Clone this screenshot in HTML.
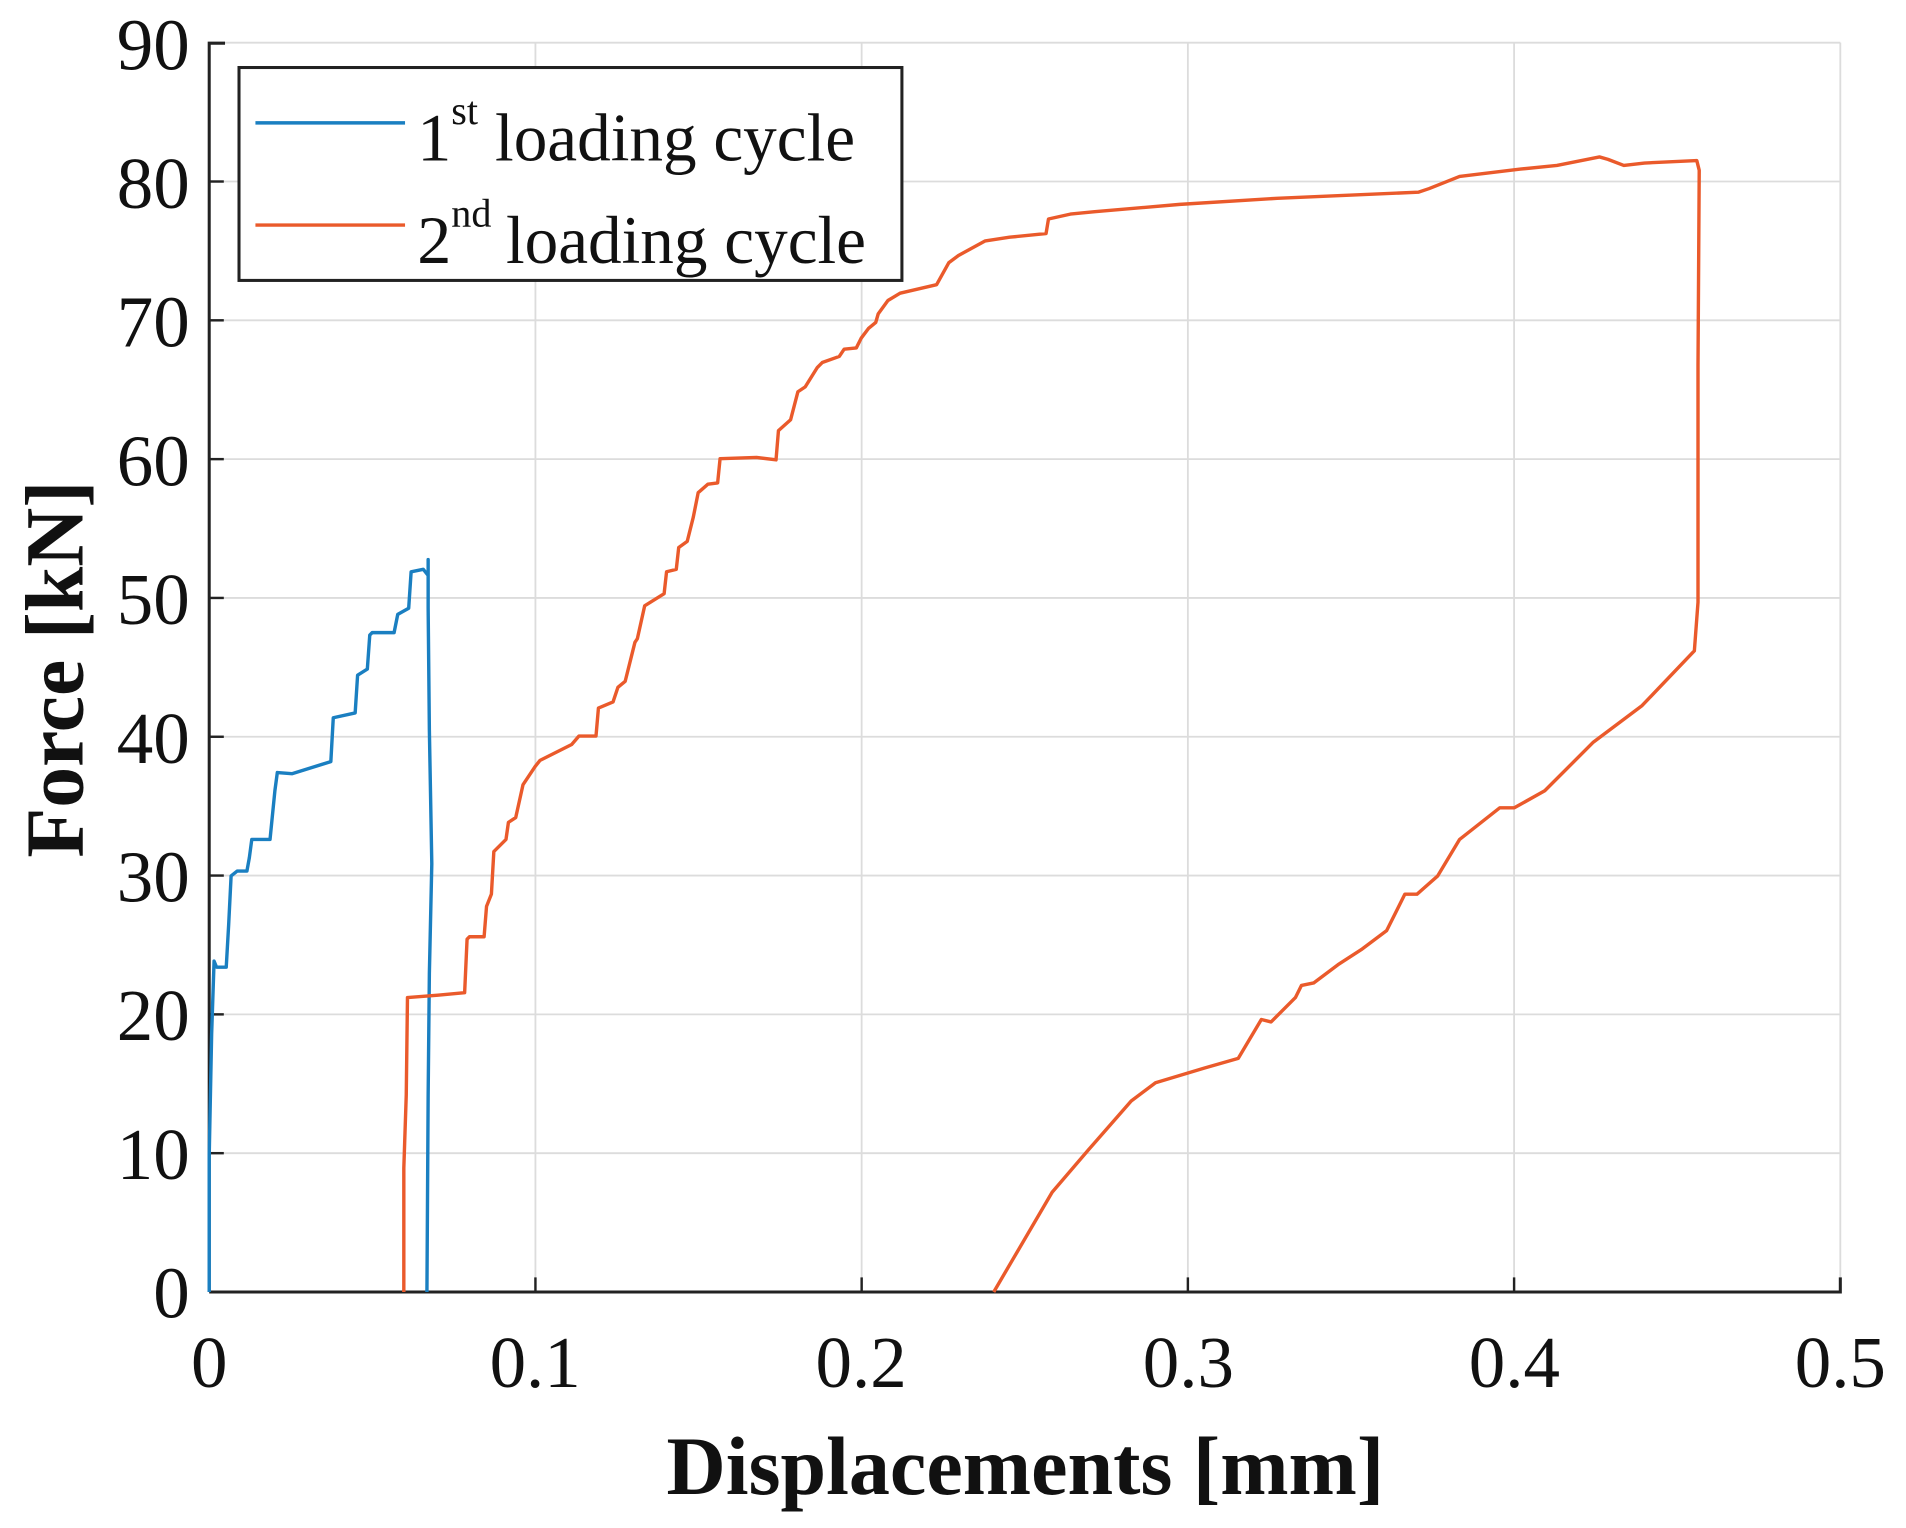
<!DOCTYPE html>
<html><head><meta charset="utf-8"><style>html,body{margin:0;padding:0;background:#fff}svg{display:block}</style></head>
<body>
<svg width="1906" height="1528" viewBox="0 0 1567 1256" preserveAspectRatio="none" xmlns="http://www.w3.org/2000/svg" font-family="Liberation Serif, serif">
<rect width="1567" height="1256" fill="#fff"/>
<g stroke="#dcdcdc" stroke-width="1.5">
<line x1="440.2" y1="35" x2="440.2" y2="1062"/><line x1="708.4" y1="35" x2="708.4" y2="1062"/>
<line x1="976.6" y1="35" x2="976.6" y2="1062"/><line x1="1244.8" y1="35" x2="1244.8" y2="1062"/>
<line x1="1513" y1="35" x2="1513" y2="1062"/>
<line x1="172" y1="947.9" x2="1513" y2="947.9"/><line x1="172" y1="833.8" x2="1513" y2="833.8"/>
<line x1="172" y1="719.7" x2="1513" y2="719.7"/><line x1="172" y1="605.6" x2="1513" y2="605.6"/>
<line x1="172" y1="491.5" x2="1513" y2="491.5"/><line x1="172" y1="377.4" x2="1513" y2="377.4"/>
<line x1="172" y1="263.3" x2="1513" y2="263.3"/><line x1="172" y1="149.2" x2="1513" y2="149.2"/>
<line x1="172" y1="35.1" x2="1513" y2="35.1"/>
</g>
<path d="M172 1062V35.5H185M172 1062H1513V1050" fill="none" stroke="#222" stroke-width="2.5"/>
<g stroke="#222" stroke-width="2">
<line x1="440.2" y1="1062" x2="440.2" y2="1050"/><line x1="708.4" y1="1062" x2="708.4" y2="1050"/>
<line x1="976.6" y1="1062" x2="976.6" y2="1050"/><line x1="1244.8" y1="1062" x2="1244.8" y2="1050"/>
<line x1="172" y1="947.9" x2="184" y2="947.9"/><line x1="172" y1="833.8" x2="184" y2="833.8"/>
<line x1="172" y1="719.7" x2="184" y2="719.7"/><line x1="172" y1="605.6" x2="184" y2="605.6"/>
<line x1="172" y1="491.5" x2="184" y2="491.5"/><line x1="172" y1="377.4" x2="184" y2="377.4"/>
<line x1="172" y1="263.3" x2="184" y2="263.3"/><line x1="172" y1="149.2" x2="184" y2="149.2"/>
</g>
<g font-size="60" text-anchor="end" fill="#111">
<text x="156" y="1083">0</text><text x="156" y="969">10</text><text x="156" y="855">20</text>
<text x="156" y="741">30</text><text x="156" y="627">40</text><text x="156" y="513">50</text>
<text x="156" y="399">60</text><text x="156" y="285">70</text><text x="156" y="171">80</text><text x="156" y="57">90</text>
</g>
<g font-size="60" text-anchor="middle" fill="#111">
<text x="172" y="1140">0</text><text x="440" y="1140">0.1</text><text x="708" y="1140">0.2</text>
<text x="977" y="1140">0.3</text><text x="1245" y="1140">0.4</text><text x="1513" y="1140">0.5</text>
</g>
<text x="843" y="1228" font-size="68" font-weight="bold" text-anchor="middle" textLength="590" lengthAdjust="spacingAndGlyphs" fill="#111">Displacements [mm]</text>
<text transform="translate(68,550) rotate(-90)" font-size="68" font-weight="bold" text-anchor="middle" textLength="310" lengthAdjust="spacingAndGlyphs" fill="#111">Force [kN]</text>

<polyline fill="none" stroke="#1a7fc1" stroke-width="2.8" stroke-linejoin="round" points="172,1062 172,950 174,850 176,790 178,795 186,795 188,760 190,720 195,716 203,716 205,705 207,690 222,690 226,650 228,635 240,636 272,626 274,590 292,586 294,555 302,550 304,522 306,520 324,520 327,505 336,500 338,470 348,468 352,473 352,460 352,500 353,600 355,710 353,800 352,900 351,1062"/>
<polyline fill="none" stroke="#ea5a2b" stroke-width="2.8" stroke-linejoin="round" points="332,1062 332,960 334,900 335,820 360,818 382,816 384,772 386,770 398,770 400,745 404,735 406,700 416,690 418,676 424,672 430,645 440,630 444,625 470,612 476,605 490,605 492,582 504,577 508,565 514,560 522,528 524,525 530,498 546,488 548,470 556,468 558,450 565,445 570,425 574,405 582,398 590,397 592,377 622,376 638,378 640,354 650,345 656,322 662,318 672,302 676,298 690,293 694,287 704,286 708,278 714,270 720,265 722,258 730,247 740,241 770,234 780,216 788,210 810,198 830,195 860,192 862,180 880,176 900,174 970,168 1050,163 1166,158 1175,155 1200,145 1250,139 1280,136 1315,129 1322,131 1335,136 1352,134 1395,132 1397,140 1396,300 1396,495 1393,535 1350,580 1310,610 1270,650 1245,664 1233,664 1200,690 1182,720 1165,735 1155,735 1140,765 1120,780 1100,793 1080,808 1070,810 1065,820 1045,840 1037,838 1018,870 990,878 950,890 930,905 895,945 865,980 817,1062"/>

<rect x="196.5" y="55.5" width="545" height="175" fill="#fff" stroke="#222" stroke-width="2.5"/>
<line x1="210" y1="101" x2="333" y2="101" stroke="#1a7fc1" stroke-width="2.8"/>
<line x1="210" y1="185" x2="333" y2="185" stroke="#ea5a2b" stroke-width="2.8"/>
<text x="343" y="132" font-size="56" fill="#111">1<tspan font-size="33" dy="-30">st</tspan><tspan dy="30" dx="14" textLength="296" lengthAdjust="spacingAndGlyphs">loading cycle</tspan></text>
<text x="343" y="216" font-size="56" fill="#111">2<tspan font-size="33" dy="-30">nd</tspan><tspan dy="30" dx="12" textLength="296" lengthAdjust="spacingAndGlyphs">loading cycle</tspan></text>
</svg>
</body></html>
